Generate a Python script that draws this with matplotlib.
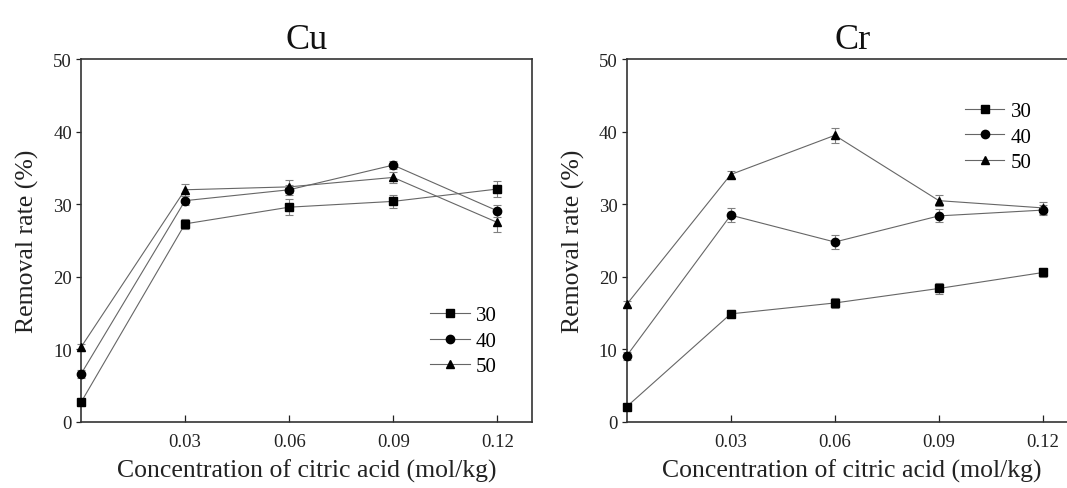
import numpy as np
import matplotlib
matplotlib.use("Agg")
import matplotlib.pyplot as plt

plt.rcParams["font.family"] = ["Liberation Serif", "DejaVu Serif"]

# Citric acid concentration (mol/kg)
conc = [0.0, 0.03, 0.06, 0.09, 0.12]
series_labels = ["30", "40", "50"]

# Cu removal rate (%) and error bars
cu_30 = [2.7, 27.3, 29.6, 30.4, 32.1]
cu_40 = [6.6, 30.5, 32.0, 35.4, 29.1]
cu_50 = [10.3, 32.0, 32.4, 33.7, 27.5]
cu_30_err = [0.5, 0.7, 1.1, 0.9, 1.1]
cu_40_err = [0.5, 0.6, 0.7, 0.6, 0.8]
cu_50_err = [0.5, 0.8, 0.9, 0.7, 1.3]

# Cr removal rate (%) and error bars
cr_30 = [2.1, 14.9, 16.4, 18.4, 20.6]
cr_40 = [9.1, 28.5, 24.8, 28.4, 29.2]
cr_50 = [16.2, 34.1, 39.5, 30.5, 29.5]
cr_30_err = [0.3, 0.6, 0.7, 0.7, 0.6]
cr_40_err = [0.5, 1.0, 1.0, 0.9, 0.7]
cr_50_err = [0.5, 0.5, 1.0, 0.8, 0.8]

x_ticks = [0.03, 0.06, 0.09, 0.12]
x_tick_labels = ["0.03", "0.06", "0.09", "0.12"]
y_ticks = [0, 10, 20, 30, 40, 50]

MARKERS = ["s", "o", "^"]


def draw_panel(ax, title, values, errors, legend_anchor):
    for vals, errs, marker, label in zip(values, errors, MARKERS, series_labels):
        ax.errorbar(
            conc, vals, yerr=errs,
            color="#666666", linewidth=0.8,
            marker=marker, markersize=6,
            markerfacecolor="black", markeredgecolor="black",
            ecolor="#808080", elinewidth=0.8, capsize=2.8, capthick=0.8,
            label=label, clip_on=False, zorder=3,
        )

    ax.set_xlim(0, 0.13)
    ax.set_ylim(0, 50)
    ax.set_xticks(x_ticks)
    ax.set_xticklabels(x_tick_labels)
    ax.set_yticks(y_ticks)
    ax.tick_params(axis="x", direction="in", length=5, width=0.9,
                   labelsize=13.5, pad=8, colors="#222222")
    ax.tick_params(axis="y", direction="out", length=3.5, width=0.9,
                   labelsize=13.5, pad=3, colors="#222222")
    for spine in ax.spines.values():
        spine.set_linewidth(1.2)
        spine.set_color("#333333")

    ax.set_title(title, fontsize=26, pad=8, color="#111111")
    ax.set_xlabel("Concentration of citric acid (mol/kg)", fontsize=18.5,
                  labelpad=6, color="#222222")
    ax.set_ylabel("Removal rate (%)", fontsize=18.5, labelpad=10,
                  color="#222222")

    # legend without error bars
    handles, labels = ax.get_legend_handles_labels()
    handles = [h[0] for h in handles]
    ax.legend(handles, labels, loc="center left", bbox_to_anchor=legend_anchor,
              frameon=False, fontsize=15, handlelength=1.9, handletextpad=0.3,
              labelspacing=0.28, borderpad=0, borderaxespad=0)


fig = plt.figure(figsize=(10.67, 4.89), dpi=100)

ax_cu = fig.add_axes([0.0759, 0.135, 0.4227, 0.742])
ax_cr = fig.add_axes([0.5873, 0.135, 0.4227, 0.742])

draw_panel(ax_cu, "Cu", [cu_30, cu_40, cu_50],
           [cu_30_err, cu_40_err, cu_50_err], (0.774, 0.223))
draw_panel(ax_cr, "Cr", [cr_30, cr_40, cr_50],
           [cr_30_err, cr_40_err, cr_50_err], (0.750, 0.786))

fig.savefig("out.png", dpi=100)
